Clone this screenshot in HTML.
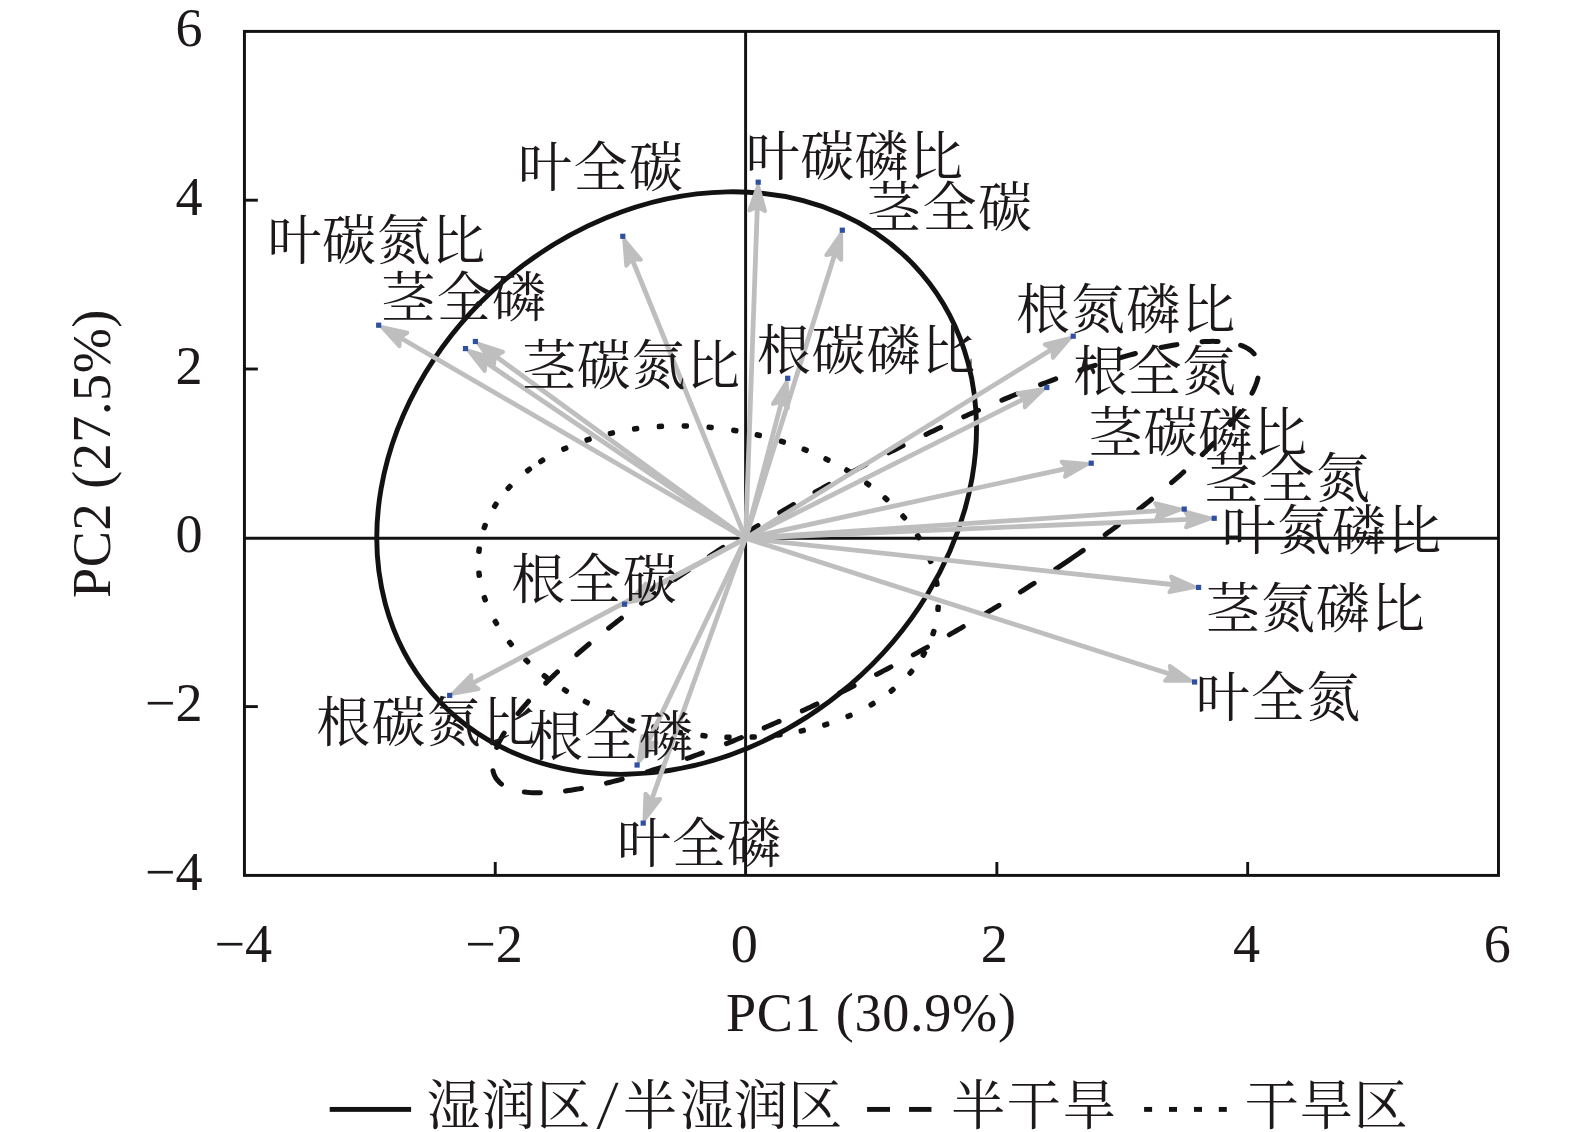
<!DOCTYPE html>
<html lang="zh"><head><meta charset="utf-8"><title>PCA</title>
<style>
html,body{margin:0;padding:0;background:#fff;}
body{width:1575px;height:1132px;overflow:hidden;}
svg{display:block;position:absolute;left:0;top:0;}
.c{font-family:"Liberation Serif","Noto Serif CJK SC",serif;font-size:54px;fill:#1d191a;font-weight:400;}
.l{font-family:"Liberation Serif",serif;font-size:54.2px;fill:#1d191a;}
</style></head><body>
<svg width="1575" height="1132" viewBox="0 0 1575 1132">
<rect x="0" y="0" width="1575" height="1132" fill="#fff"/>
<g fill="#121212">
<rect x="538.04" y="458.10" width="7.4" height="5.5" rx="2.0" ry="2.0" transform="rotate(-31.8 541.74 460.85)"/>
<rect x="561.10" y="445.87" width="7.4" height="5.5" rx="2.0" ry="2.0" transform="rotate(-24.3 564.80 448.62)"/>
<rect x="584.38" y="436.88" width="7.4" height="5.5" rx="2.0" ry="2.0" transform="rotate(-18.1 588.08 439.63)"/>
<rect x="607.73" y="430.46" width="7.4" height="5.5" rx="2.0" ry="2.0" transform="rotate(-12.8 611.43 433.21)"/>
<rect x="631.91" y="426.08" width="7.4" height="5.5" rx="2.0" ry="2.0" transform="rotate(-7.9 635.61 428.83)"/>
<rect x="656.71" y="423.67" width="7.4" height="5.5" rx="2.0" ry="2.0" transform="rotate(-3.3 660.41 426.42)"/>
<rect x="681.61" y="423.18" width="7.4" height="5.5" rx="2.0" ry="2.0" transform="rotate(1.0 685.31 425.93)"/>
<rect x="706.46" y="424.54" width="7.4" height="5.5" rx="2.0" ry="2.0" transform="rotate(5.2 710.16 427.29)"/>
<rect x="731.14" y="427.69" width="7.4" height="5.5" rx="2.0" ry="2.0" transform="rotate(9.3 734.84 430.44)"/>
<rect x="754.57" y="432.35" width="7.4" height="5.5" rx="2.0" ry="2.0" transform="rotate(13.2 758.27 435.10)"/>
<rect x="778.69" y="438.97" width="7.4" height="5.5" rx="2.0" ry="2.0" transform="rotate(17.5 782.39 441.72)"/>
<rect x="801.45" y="447.05" width="7.4" height="5.5" rx="2.0" ry="2.0" transform="rotate(21.7 805.15 449.80)"/>
<rect x="823.26" y="456.70" width="7.4" height="5.5" rx="2.0" ry="2.0" transform="rotate(26.1 826.96 459.45)"/>
<rect x="843.99" y="467.94" width="7.4" height="5.5" rx="2.0" ry="2.0" transform="rotate(30.9 847.69 470.69)"/>
<rect x="864.03" y="481.19" width="7.4" height="5.5" rx="2.0" ry="2.0" transform="rotate(36.2 867.73 483.94)"/>
<rect x="882.24" y="495.98" width="7.4" height="5.5" rx="2.0" ry="2.0" transform="rotate(42.1 885.94 498.73)"/>
<rect x="900.05" y="514.21" width="7.4" height="5.5" rx="2.0" ry="2.0" transform="rotate(49.5 903.75 516.96)"/>
<rect x="914.60" y="533.88" width="7.4" height="5.5" rx="2.0" ry="2.0" transform="rotate(57.8 918.30 536.63)"/>
<rect x="926.61" y="557.57" width="7.4" height="5.5" rx="2.0" ry="2.0" transform="rotate(68.7 930.31 560.32)"/>
<rect x="933.01" y="580.38" width="7.4" height="5.5" rx="2.0" ry="2.0" transform="rotate(80.2 936.71 583.13)"/>
<rect x="934.36" y="605.57" width="7.4" height="5.5" rx="2.0" ry="2.0" transform="rotate(93.9 938.06 608.32)"/>
<rect x="929.72" y="629.85" width="7.4" height="5.5" rx="2.0" ry="2.0" transform="rotate(107.7 933.42 632.60)"/>
<rect x="920.13" y="651.32" width="7.4" height="5.5" rx="2.0" ry="2.0" transform="rotate(120.2 923.83 654.07)"/>
<rect x="907.15" y="669.47" width="7.4" height="5.5" rx="2.0" ry="2.0" transform="rotate(130.7 910.85 672.22)"/>
<rect x="888.40" y="687.55" width="7.4" height="5.5" rx="2.0" ry="2.0" transform="rotate(141.1 892.10 690.30)"/>
<rect x="868.39" y="701.42" width="7.4" height="5.5" rx="2.0" ry="2.0" transform="rotate(149.2 872.09 704.17)"/>
<rect x="845.36" y="713.17" width="7.4" height="5.5" rx="2.0" ry="2.0" transform="rotate(156.5 849.06 715.92)"/>
<rect x="822.07" y="721.81" width="7.4" height="5.5" rx="2.0" ry="2.0" transform="rotate(162.6 825.77 724.56)"/>
<rect x="798.55" y="727.98" width="7.4" height="5.5" rx="2.0" ry="2.0" transform="rotate(167.9 802.25 730.73)"/>
<rect x="775.26" y="731.99" width="7.4" height="5.5" rx="2.0" ry="2.0" transform="rotate(172.5 778.96 734.74)"/>
<rect x="749.51" y="734.28" width="7.4" height="5.5" rx="2.0" ry="2.0" transform="rotate(177.3 753.21 737.03)"/>
<rect x="724.27" y="734.52" width="7.4" height="5.5" rx="2.0" ry="2.0" transform="rotate(-178.4 727.97 737.27)"/>
<rect x="700.28" y="732.99" width="7.4" height="5.5" rx="2.0" ry="2.0" transform="rotate(-174.4 703.98 735.74)"/>
<rect x="675.68" y="729.68" width="7.4" height="5.5" rx="2.0" ry="2.0" transform="rotate(-170.3 679.38 732.43)"/>
<rect x="651.21" y="724.58" width="7.4" height="5.5" rx="2.0" ry="2.0" transform="rotate(-166.2 654.91 727.33)"/>
<rect x="627.43" y="717.80" width="7.4" height="5.5" rx="2.0" ry="2.0" transform="rotate(-162.0 631.13 720.55)"/>
<rect x="605.99" y="709.99" width="7.4" height="5.5" rx="2.0" ry="2.0" transform="rotate(-158.0 609.69 712.74)"/>
<rect x="582.60" y="699.36" width="7.4" height="5.5" rx="2.0" ry="2.0" transform="rotate(-153.1 586.30 702.11)"/>
<rect x="561.72" y="687.66" width="7.4" height="5.5" rx="2.0" ry="2.0" transform="rotate(-148.2 565.42 690.41)"/>
<rect x="541.49" y="673.76" width="7.4" height="5.5" rx="2.0" ry="2.0" transform="rotate(-142.7 545.19 676.51)"/>
<rect x="523.13" y="658.16" width="7.4" height="5.5" rx="2.0" ry="2.0" transform="rotate(-136.5 526.83 660.91)"/>
<rect x="506.74" y="640.58" width="7.4" height="5.5" rx="2.0" ry="2.0" transform="rotate(-129.3 510.44 643.33)"/>
<rect x="492.16" y="619.71" width="7.4" height="5.5" rx="2.0" ry="2.0" transform="rotate(-120.3 495.86 622.46)"/>
<rect x="481.10" y="595.89" width="7.4" height="5.5" rx="2.0" ry="2.0" transform="rotate(-109.2 484.80 598.64)"/>
<rect x="475.42" y="571.46" width="7.4" height="5.5" rx="2.0" ry="2.0" transform="rotate(-96.7 479.12 574.21)"/>
<rect x="475.37" y="547.41" width="7.4" height="5.5" rx="2.0" ry="2.0" transform="rotate(-83.4 479.07 550.16)"/>
<rect x="480.99" y="523.82" width="7.4" height="5.5" rx="2.0" ry="2.0" transform="rotate(-69.9 484.69 526.57)"/>
<rect x="491.59" y="502.49" width="7.4" height="5.5" rx="2.0" ry="2.0" transform="rotate(-57.5 495.29 505.24)"/>
<rect x="505.36" y="484.71" width="7.4" height="5.5" rx="2.0" ry="2.0" transform="rotate(-47.2 509.06 487.46)"/>
<rect x="524.83" y="467.16" width="7.4" height="5.5" rx="2.0" ry="2.0" transform="rotate(-37.1 528.53 469.91)"/>
</g>
<path d="M1069.15 560.06 L1066.91 561.58 L1064.66 563.11 L1062.45 564.60 L1060.19 566.12 L1057.97 567.61 L1055.68 569.13 M1034.12 583.27 L1031.87 584.72 L1029.56 586.20 L1027.29 587.65 L1025.02 589.10 L1022.74 590.54 L1020.46 591.99 M998.97 605.36 L996.63 606.80 L994.34 608.19 L992.04 609.58 L989.75 610.98 L987.39 612.40 L985.08 613.79 M963.26 626.71 L960.97 628.04 L958.62 629.41 L956.26 630.77 L953.97 632.10 L951.61 633.45 L949.24 634.81 M927.44 647.10 L925.05 648.43 L922.72 649.71 L920.33 651.03 L918.00 652.32 L915.60 653.63 L913.27 654.90 M890.92 666.90 L888.52 668.17 L886.11 669.43 L883.76 670.66 L881.35 671.92 L878.94 673.18 L876.53 674.43 M854.14 685.84 L851.74 687.04 L849.34 688.24 L846.87 689.47 L844.47 690.66 L842.07 691.84 L839.61 693.05 M816.97 703.97 L814.53 705.13 L812.10 706.27 L809.66 707.42 L807.23 708.55 L804.75 709.71 L802.32 710.83 M779.07 721.38 L776.57 722.48 L774.13 723.56 L771.64 724.66 L769.15 725.75 L766.66 726.83 L764.18 727.90 M741.43 737.51 L738.95 738.53 L736.48 739.54 L733.96 740.56 L731.45 741.58 L728.94 742.59 L726.44 743.59 M702.36 752.90 L699.84 753.85 L697.33 754.78 L694.78 755.72 L692.24 756.65 L689.71 757.57 L687.18 758.47 M662.58 766.95 L660.04 767.78 L657.45 768.62 L654.89 769.44 L652.34 770.25 L649.75 771.07 L647.18 771.86 M622.21 779.10 L619.60 779.80 L616.97 780.49 L614.36 781.17 L611.73 781.83 L609.12 782.48 L606.49 783.12 M581.48 788.42 L578.79 788.90 L576.15 789.34 L573.46 789.78 L570.82 790.18 L568.14 790.57 L565.47 790.93 M540.44 792.82 L537.76 792.83 L535.05 792.78 L532.36 792.68 L529.65 792.51 L526.98 792.28 L524.29 791.98 M501.50 784.04 L499.44 782.31 L497.57 780.35 L495.97 778.18 L494.66 775.82 L493.66 773.32 L492.98 770.70 M496.70 747.39 L497.78 744.91 L498.94 742.48 L500.17 740.07 L501.45 737.70 L502.79 735.36 L504.18 733.04 M518.06 713.58 L519.75 711.50 L521.47 709.41 L523.22 707.34 L524.97 705.30 L526.74 703.28 L528.53 701.26 M545.77 683.15 L547.71 681.23 L549.63 679.36 L551.57 677.48 L553.51 675.62 L555.48 673.75 L557.45 671.90 M576.76 654.52 L578.80 652.75 L580.87 650.98 L582.92 649.23 L584.99 647.48 L587.04 645.75 L589.11 644.02 M608.61 628.19 L610.74 626.52 L612.83 624.87 L614.99 623.19 L617.11 621.54 L619.25 619.89 L621.41 618.23 M641.48 603.17 L643.63 601.59 L645.84 599.98 L648.02 598.40 L650.20 596.82 L652.40 595.24 L654.56 593.69 M675.11 579.24 L677.32 577.72 L679.54 576.20 L681.77 574.67 L684.01 573.15 L686.26 571.63 L688.51 570.10 M709.39 556.24 L711.68 554.75 L713.96 553.27 L716.21 551.82 L718.45 550.37 L720.76 548.88 L723.02 547.43 M744.27 534.05 L746.54 532.65 L748.86 531.21 L751.14 529.82 L753.48 528.38 L755.76 526.99 L758.05 525.59 M779.62 512.67 L781.95 511.29 L784.23 509.95 L786.57 508.58 L788.91 507.22 L791.26 505.85 L793.55 504.52 M814.97 492.29 L817.28 490.99 L819.67 489.66 L821.99 488.36 L824.38 487.03 L826.70 485.74 L829.09 484.42 M851.58 472.20 L853.98 470.91 L856.33 469.66 L858.73 468.39 L861.14 467.11 L863.49 465.87 L865.89 464.61 M888.65 452.85 L891.06 451.63 L893.47 450.42 L895.87 449.20 L898.28 448.00 L900.68 446.79 L903.14 445.57 M925.97 434.41 L928.41 433.23 L930.86 432.07 L933.30 430.90 L935.74 429.75 L938.18 428.60 L940.61 427.45 M963.74 416.80 L966.20 415.69 L968.66 414.59 L971.11 413.50 L973.56 412.41 L976.06 411.30 L978.50 410.23 M1001.89 400.18 L1004.39 399.13 L1006.88 398.10 L1009.37 397.07 L1011.90 396.02 L1014.38 395.01 L1016.90 393.98 M1040.53 384.64 L1043.08 383.66 L1045.57 382.72 L1048.10 381.76 L1050.63 380.81 L1053.19 379.86 L1055.70 378.93 M1079.87 370.35 L1082.42 369.49 L1085.00 368.62 L1087.57 367.77 L1090.12 366.92 L1092.71 366.08 L1095.23 365.26 M1119.78 357.79 L1122.37 357.06 L1124.99 356.33 L1127.59 355.61 L1130.22 354.90 L1132.82 354.21 L1135.40 353.53 M1161.04 347.55 L1163.68 347.02 L1166.33 346.50 L1168.99 346.00 L1171.65 345.52 L1174.31 345.06 L1176.97 344.62 M1201.99 341.72 L1204.68 341.57 L1207.37 341.46 L1210.06 341.39 L1212.77 341.37 L1215.46 341.39 L1218.16 341.47 M1240.67 345.22 L1243.19 346.19 L1245.64 347.33 L1247.99 348.65 L1250.21 350.17 L1252.29 351.91 L1254.14 353.87 M1257.93 378.17 L1257.20 380.77 L1256.34 383.35 L1255.39 385.85 L1254.34 388.35 L1253.21 390.81 L1252.01 393.22 M1240.46 411.68 L1238.86 413.86 L1237.23 416.03 L1235.59 418.15 L1233.92 420.27 L1232.21 422.38 L1230.50 424.46 M1213.73 443.12 L1211.84 445.08 L1209.96 447.00 L1208.06 448.92 L1206.15 450.83 L1204.24 452.72 L1202.29 454.62 M1183.73 471.93 L1181.71 473.74 L1179.70 475.51 L1177.67 477.30 L1175.62 479.09 L1173.58 480.86 L1171.52 482.63 M1151.55 499.25 L1149.45 500.94 L1147.37 502.60 L1145.24 504.31 L1143.13 505.98 L1141.01 507.65 L1138.87 509.33 M1118.23 525.09 L1116.08 526.70 L1113.92 528.30 L1111.74 529.91 L1109.55 531.52 L1107.39 533.10 L1105.18 534.71 M1083.21 550.36 L1080.98 551.91 L1078.79 553.43 L1076.54 554.99 L1074.32 556.51 L1072.11 558.04 L1069.88 559.56" fill="none" stroke="#121212" stroke-width="5.0" stroke-linecap="round" stroke-linejoin="round"/>
<ellipse cx="676.63" cy="483.08" rx="322.37" ry="266.09" transform="rotate(139.4 676.63 483.08)" fill="none" stroke="#121212" stroke-width="4.9"/>
<line x1="745.60" y1="31.4" x2="745.60" y2="875.4" stroke="#121212" stroke-width="2.95"/>
<line x1="244.44" y1="538.30" x2="1498.48" y2="538.30" stroke="#121212" stroke-width="2.95"/>
<rect x="244.44" y="31.4" width="1254.04" height="844.00" fill="none" stroke="#121212" stroke-width="2.95"/>
<line x1="244.44" y1="706.60" x2="257.84" y2="706.60" stroke="#121212" stroke-width="2.9"/>
<line x1="244.44" y1="369.00" x2="257.84" y2="369.00" stroke="#121212" stroke-width="2.9"/>
<line x1="244.44" y1="200.20" x2="257.84" y2="200.20" stroke="#121212" stroke-width="2.9"/>
<line x1="495.25" y1="875.4" x2="495.25" y2="862.00" stroke="#121212" stroke-width="2.9"/>
<line x1="996.86" y1="875.4" x2="996.86" y2="862.00" stroke="#121212" stroke-width="2.9"/>
<line x1="1247.67" y1="875.4" x2="1247.67" y2="862.00" stroke="#121212" stroke-width="2.9"/>
<line x1="745.60" y1="538.30" x2="632.03" y2="259.00" stroke="#bebebe" stroke-width="4.8"/>
<path d="M624.31 240.01 L640.76 259.76 L632.03 259.00 L626.31 265.64Z" fill="#bebebe" stroke="#bebebe" stroke-width="4.0" stroke-linejoin="round"/>
<line x1="745.60" y1="538.30" x2="757.33" y2="206.68" stroke="#bebebe" stroke-width="4.8"/>
<path d="M758.06 186.20 L764.99 210.96 L757.33 206.68 L749.40 210.41Z" fill="#bebebe" stroke="#bebebe" stroke-width="4.0" stroke-linejoin="round"/>
<line x1="745.60" y1="538.30" x2="834.96" y2="253.58" stroke="#bebebe" stroke-width="4.8"/>
<path d="M841.10 234.02 L841.21 259.73 L834.96 253.58 L826.32 255.06Z" fill="#bebebe" stroke="#bebebe" stroke-width="4.0" stroke-linejoin="round"/>
<line x1="745.60" y1="538.30" x2="399.89" y2="337.50" stroke="#bebebe" stroke-width="4.8"/>
<path d="M382.16 327.21 L407.26 332.77 L399.89 337.50 L399.43 346.26Z" fill="#bebebe" stroke="#bebebe" stroke-width="4.0" stroke-linejoin="round"/>
<line x1="745.60" y1="538.30" x2="495.20" y2="355.92" stroke="#bebebe" stroke-width="4.8"/>
<path d="M478.63 343.85 L503.03 351.97 L495.20 355.92 L493.84 364.58Z" fill="#bebebe" stroke="#bebebe" stroke-width="4.0" stroke-linejoin="round"/>
<line x1="745.60" y1="538.30" x2="485.79" y2="362.34" stroke="#bebebe" stroke-width="4.8"/>
<path d="M468.81 350.84 L493.47 358.12 L485.79 362.34 L484.72 371.04Z" fill="#bebebe" stroke="#bebebe" stroke-width="4.0" stroke-linejoin="round"/>
<line x1="745.60" y1="538.30" x2="781.47" y2="401.99" stroke="#bebebe" stroke-width="4.8"/>
<path d="M786.68 382.17 L787.99 407.85 L781.47 401.99 L772.90 403.88Z" fill="#bebebe" stroke="#bebebe" stroke-width="4.0" stroke-linejoin="round"/>
<line x1="745.60" y1="538.30" x2="1052.35" y2="349.06" stroke="#bebebe" stroke-width="4.8"/>
<path d="M1069.80 338.30 L1053.04 357.80 L1052.35 349.06 L1044.85 344.53Z" fill="#bebebe" stroke="#bebebe" stroke-width="4.0" stroke-linejoin="round"/>
<line x1="745.60" y1="538.30" x2="1024.89" y2="398.47" stroke="#bebebe" stroke-width="4.8"/>
<path d="M1043.22 389.29 L1024.81 407.23 L1024.89 398.47 L1017.82 393.28Z" fill="#bebebe" stroke="#bebebe" stroke-width="4.0" stroke-linejoin="round"/>
<line x1="745.60" y1="538.30" x2="1067.26" y2="468.40" stroke="#bebebe" stroke-width="4.8"/>
<path d="M1087.29 464.05 L1065.01 476.87 L1067.26 468.40 L1061.69 461.63Z" fill="#bebebe" stroke="#bebebe" stroke-width="4.0" stroke-linejoin="round"/>
<line x1="745.60" y1="538.30" x2="1159.75" y2="510.73" stroke="#bebebe" stroke-width="4.8"/>
<path d="M1180.21 509.37 L1156.28 518.78 L1159.75 510.73 L1155.24 503.21Z" fill="#bebebe" stroke="#bebebe" stroke-width="4.0" stroke-linejoin="round"/>
<line x1="745.60" y1="538.30" x2="1189.72" y2="519.34" stroke="#bebebe" stroke-width="4.8"/>
<path d="M1210.20 518.47 L1186.06 527.31 L1189.72 519.34 L1185.39 511.72Z" fill="#bebebe" stroke="#bebebe" stroke-width="4.0" stroke-linejoin="round"/>
<line x1="745.60" y1="538.30" x2="1174.24" y2="584.76" stroke="#bebebe" stroke-width="4.8"/>
<path d="M1194.62 586.97 L1169.43 592.08 L1174.24 584.76 L1171.11 576.57Z" fill="#bebebe" stroke="#bebebe" stroke-width="4.0" stroke-linejoin="round"/>
<line x1="745.60" y1="538.30" x2="1171.27" y2="674.53" stroke="#bebebe" stroke-width="4.8"/>
<path d="M1190.79 680.78 L1165.08 680.74 L1171.27 674.53 L1169.83 665.88Z" fill="#bebebe" stroke="#bebebe" stroke-width="4.0" stroke-linejoin="round"/>
<line x1="745.60" y1="538.30" x2="646.12" y2="592.48" stroke="#bebebe" stroke-width="4.8"/>
<path d="M628.11 602.29 L645.90 583.72 L646.12 592.48 L653.36 597.42Z" fill="#bebebe" stroke="#bebebe" stroke-width="4.0" stroke-linejoin="round"/>
<line x1="745.60" y1="538.30" x2="471.34" y2="683.91" stroke="#bebebe" stroke-width="4.8"/>
<path d="M453.23 693.52 L471.21 675.15 L471.34 683.91 L478.53 688.92Z" fill="#bebebe" stroke="#bebebe" stroke-width="4.0" stroke-linejoin="round"/>
<line x1="745.60" y1="538.30" x2="647.68" y2="742.90" stroke="#bebebe" stroke-width="4.8"/>
<path d="M638.83 761.39 L642.37 735.93 L647.68 742.90 L656.44 742.66Z" fill="#bebebe" stroke="#bebebe" stroke-width="4.0" stroke-linejoin="round"/>
<line x1="745.60" y1="538.30" x2="651.49" y2="800.04" stroke="#bebebe" stroke-width="4.8"/>
<path d="M644.55 819.34 L645.50 793.64 L651.49 800.04 L660.18 798.92Z" fill="#bebebe" stroke="#bebebe" stroke-width="4.0" stroke-linejoin="round"/>
<rect x="620.20" y="233.70" width="5.2" height="5.2" fill="#2e4fa2"/>
<rect x="755.60" y="179.60" width="5.2" height="5.2" fill="#2e4fa2"/>
<rect x="839.70" y="227.60" width="5.2" height="5.2" fill="#2e4fa2"/>
<rect x="376.10" y="322.60" width="5.2" height="5.2" fill="#2e4fa2"/>
<rect x="472.80" y="338.90" width="5.2" height="5.2" fill="#2e4fa2"/>
<rect x="462.90" y="346.00" width="5.2" height="5.2" fill="#2e4fa2"/>
<rect x="785.10" y="375.70" width="5.2" height="5.2" fill="#2e4fa2"/>
<rect x="1070.60" y="333.60" width="5.2" height="5.2" fill="#2e4fa2"/>
<rect x="1044.20" y="384.90" width="5.2" height="5.2" fill="#2e4fa2"/>
<rect x="1088.60" y="460.60" width="5.2" height="5.2" fill="#2e4fa2"/>
<rect x="1181.60" y="506.50" width="5.2" height="5.2" fill="#2e4fa2"/>
<rect x="1211.60" y="515.70" width="5.2" height="5.2" fill="#2e4fa2"/>
<rect x="1196.00" y="584.80" width="5.2" height="5.2" fill="#2e4fa2"/>
<rect x="1192.00" y="679.40" width="5.2" height="5.2" fill="#2e4fa2"/>
<rect x="622.00" y="601.60" width="5.2" height="5.2" fill="#2e4fa2"/>
<rect x="447.10" y="692.80" width="5.2" height="5.2" fill="#2e4fa2"/>
<rect x="634.50" y="762.40" width="5.2" height="5.2" fill="#2e4fa2"/>
<rect x="640.60" y="820.50" width="5.2" height="5.2" fill="#2e4fa2"/>
<text class="c" x="517.9" y="186.7" style="letter-spacing:1.55px;">叶全碳</text>
<text class="c" x="745.8" y="176.0" style="letter-spacing:0.4px;">叶碳磷比</text>
<text class="c" x="867.1" y="227.2" style="letter-spacing:1.4px;">茎全碳</text>
<text class="c" x="267.5" y="259.9" style="letter-spacing:0.6px;">叶碳氮比</text>
<text class="c" x="381.3" y="317.0" style="letter-spacing:1.35px;">茎全磷</text>
<text class="c" x="522.3" y="384.9" style="letter-spacing:0.57px;">茎碳氮比</text>
<text class="c" x="756.7" y="370.3" style="letter-spacing:0.87px;">根碳磷比</text>
<text class="c" x="1016.1" y="328.8" style="letter-spacing:1.03px;">根氮磷比</text>
<text class="c" x="1073.2" y="391.0" style="letter-spacing:0.4px;">根全氮</text>
<text class="c" x="1088.7" y="452.0" style="letter-spacing:0.77px;">茎碳磷比</text>
<text class="c" x="1204.5" y="497.9" style="letter-spacing:1.75px;">茎全氮</text>
<text class="c" x="1221.8" y="550.0" style="letter-spacing:1.13px;">叶氮磷比</text>
<text class="c" x="1206.0" y="627.5" style="letter-spacing:0.9px;">茎氮磷比</text>
<text class="c" x="1195.8" y="717.0" style="letter-spacing:1.25px;">叶全氮</text>
<text class="c" x="511.2" y="599.3" style="letter-spacing:1.8px;">根全碳</text>
<text class="c" x="316.3" y="742.0" style="letter-spacing:1.23px;">根碳氮比</text>
<text class="c" x="528.9" y="755.5" style="letter-spacing:1.05px;">根全磷</text>
<text class="c" x="617" y="862.5" style="letter-spacing:1.0px;">叶全磷</text>
<text class="c" x="426.5" y="1124.5" style="letter-spacing:1.0px;">湿润区</text>
<text class="c" x="0" y="0" style="font-family:'Noto Serif CJK SC',serif;" transform="translate(596,1119.5) scale(1.216,0.908)">/</text>
<text class="c" x="625.6" y="1124.5" dx="-2.6 2.6 0 0" style="letter-spacing:0.2px;">半湿润区</text>
<text class="c" x="951.3" y="1124.5" style="letter-spacing:1.5px;">半干旱</text>
<text class="c" x="1244.7" y="1124.5" style="letter-spacing:0.5px;">干旱区</text>
<text class="l" x="202.7" y="46.4" text-anchor="end">6</text>
<text class="l" x="202.7" y="215.06" text-anchor="end">4</text>
<text class="l" x="202.7" y="383.9" text-anchor="end">2</text>
<text class="l" x="202.7" y="552.0" text-anchor="end">0</text>
<text class="l" x="202.7" y="720.9" text-anchor="end">−2</text>
<text class="l" x="202.7" y="889.7" text-anchor="end">−4</text>
<text class="l" x="214.5" y="962.0">−4</text>
<text class="l" x="465.2" y="962.0">−2</text>
<text class="l" x="730.7" y="962.0">0</text>
<text class="l" x="980.8" y="962.0">2</text>
<text class="l" x="1233.0" y="962.0">4</text>
<text class="l" x="1483.7" y="962.0">6</text>
<text class="l" x="726.0" y="1030.8" textLength="290.0" lengthAdjust="spacing">PC1 (30.9%)</text>
<text class="l" x="109.9" y="597.9" textLength="288.3" lengthAdjust="spacing" transform="rotate(-90 109.9 597.9)">PC2 (27.5%)</text>
<rect x="329.7" y="1106.95" width="81.4" height="4.9" fill="#121212"/>
<rect x="867.1" y="1106.95" width="22.9" height="4.9" fill="#121212"/>
<rect x="909.05" y="1106.95" width="22.4" height="4.9" fill="#121212"/>
<rect x="1144.1" y="1106.95" width="8.0" height="4.9" fill="#121212"/>
<rect x="1169.0" y="1106.95" width="8.0" height="4.9" fill="#121212"/>
<rect x="1194.0" y="1106.95" width="8.0" height="4.9" fill="#121212"/>
<rect x="1218.8" y="1106.95" width="8.0" height="4.9" fill="#121212"/>
</svg></body></html>
